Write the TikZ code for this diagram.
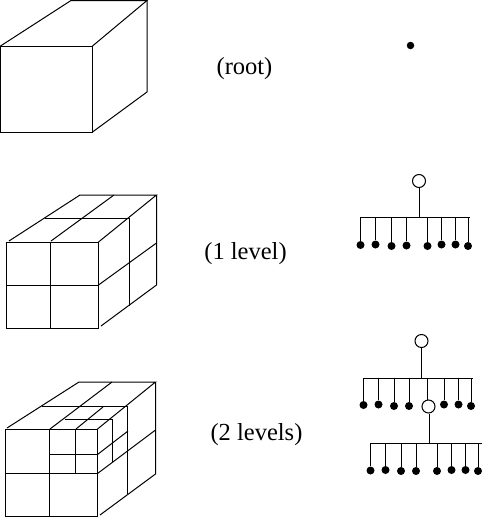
\documentclass[tikz,border=0pt]{standalone}
\usepackage{fontspec}
\setmainfont{Liberation Serif}
\usetikzlibrary{positioning}

\begin{document}
\begin{tikzpicture}[x=1pt,y=-1pt,line width=1pt,
    main node/.style={circle,draw,fill=white,inner sep=0pt,minimum size=13pt},
    small node/.style={circle,fill=black,inner sep=0pt,minimum size=8pt},
    label node/.style={inner sep=0pt,font=\fontsize{24.5}{27}\selectfont}]
    \useasboundingbox (0,0) rectangle (482,517);

    % root cube
    \draw (0.5,46) rectangle (92.5,132);
    \draw (0.5,46) -- (71,0.5) -- (147,0.5) -- (92.5,46);
    \draw (147,0.5) -- (147,92) -- (92.5,132);

    % cube, 1 level
    \draw (6.5,242) rectangle (98.5,328);
    \draw (50.5,242) -- (50.5,328);
    \draw (6.5,285) -- (98.5,285);
    \draw (9,241) -- (80,195) -- (156.5,195) -- (98.5,242);
    \draw (51,241) -- (114,195);
    \draw (45,218) -- (129,218) -- (129,306);
    \draw (156.5,195) -- (156.5,285) -- (101,326);
    \draw (98.5,285) -- (156.5,243);

    % cube, 2 levels
    \draw (5.5,429) rectangle (97.5,516);
    \draw (49.5,429) -- (49.5,516);
    \draw (5.5,473.5) -- (97.5,473.5);
    \draw (7,428) -- (79,382) -- (155.5,382) -- (97.5,429);
    \draw (50,429) -- (112,382);
    \draw (42,406.5) -- (127,406.5) -- (127,494);
    \draw (155.5,382) -- (155.5,474) -- (100,515);
    \draw (97.5,473.5) -- (155.5,430);
    \draw (75.5,429) -- (75.5,473.5);
    \draw (49.5,454.5) -- (97.5,454.5);
    \draw (65,419) -- (112,419) -- (112,462);
    \draw (76,429) -- (103,407);
    \draw (97.5,454.5) -- (128,431);

    % labels
    \node[label node] (root) at (244.5,68.5) {(root)};
    \node[label node] (one) at (245.5,253.5) {(1 level)};
    \node[label node] (two) at (256.5,434.5) {(2 levels)};

    % root tree
    \node[small node,minimum size=7.5pt] (r) at (410.5,45.5) {};

    % tree, 1 level
    \node[main node] (a) at (419,181) {};
    \coordinate (aj) at (419,217);
    \coordinate (al) at (360.5,217);
    \coordinate (ar) at (469.5,217);
    \node[small node] (a1) at (360.5,245) {};
    \node[small node] (a2) at (375.5,244.5) {};
    \node[small node] (a3) at (391.5,246) {};
    \node[small node] (a4) at (406.5,245.5) {};
    \node[small node] (a5) at (427.5,246) {};
    \node[small node] (a6) at (441.5,244.5) {};
    \node[small node] (a7) at (455.5,244.5) {};
    \node[small node] (a8) at (468,246) {};
    \path (a) edge (aj);
    \path (al) edge (ar);
    \path (a1) edge (a1|-aj);
    \path (a2) edge (a2|-aj);
    \path (a3) edge (a3|-aj);
    \path (a4) edge (a4|-aj);
    \path (a5) edge (a5|-aj);
    \path (a6) edge (a6|-aj);
    \path (a7) edge (a7|-aj);
    \path (a8) edge (a8|-aj);

    % tree, 2 levels: upper part
    \node[main node] (b) at (421.5,341) {};
    \coordinate (bj) at (421.5,378);
    \coordinate (bl) at (363,378);
    \coordinate (br) at (473,378);
    \node[small node] (b1) at (363.5,405) {};
    \node[small node] (b2) at (378.5,404.5) {};
    \node[small node] (b3) at (394,406) {};
    \node[small node] (b4) at (409,406) {};
    \node[small node] (b6) at (444,404.5) {};
    \node[small node] (b7) at (458.5,404.5) {};
    \node[small node] (b8) at (471,406) {};
    \path (b) edge (bj);
    \path (bl) edge (br);
    \path (b1) edge (b1|-bj);
    \path (b2) edge (b2|-bj);
    \path (b3) edge (b3|-bj);
    \path (b4) edge (b4|-bj);
    \path (b6) edge (b6|-bj);
    \path (b7) edge (b7|-bj);
    \path (b8) edge (b8|-bj);

    % tree, 2 levels: lower part
    \node[main node] (c) at (428.5,406.5) {};
    \coordinate (cb) at (427.5,378);
    \path (cb) edge (cb|-c.north);
    \coordinate (cj) at (429.5,443);
    \coordinate (cl) at (370.5,443);
    \coordinate (cr) at (481.5,443);
    \node[small node] (c1) at (370.5,470.5) {};
    \node[small node] (c2) at (385.5,470) {};
    \node[small node] (c3) at (401,471) {};
    \node[small node] (c4) at (416,471) {};
    \node[small node] (c5) at (437,471) {};
    \node[small node] (c6) at (451.5,470) {};
    \node[small node] (c7) at (465.5,470) {};
    \node[small node] (c8) at (478,471) {};
    \path (cj|-c.south) edge (cj);
    \path (cl) edge (cr);
    \path (c1) edge (c1|-cj);
    \path (c2) edge (c2|-cj);
    \path (c3) edge (c3|-cj);
    \path (c4) edge (c4|-cj);
    \path (c5) edge (c5|-cj);
    \path (c6) edge (c6|-cj);
    \path (c7) edge (c7|-cj);
    \path (c8) edge (c8|-cj);
\end{tikzpicture}
\end{document}
